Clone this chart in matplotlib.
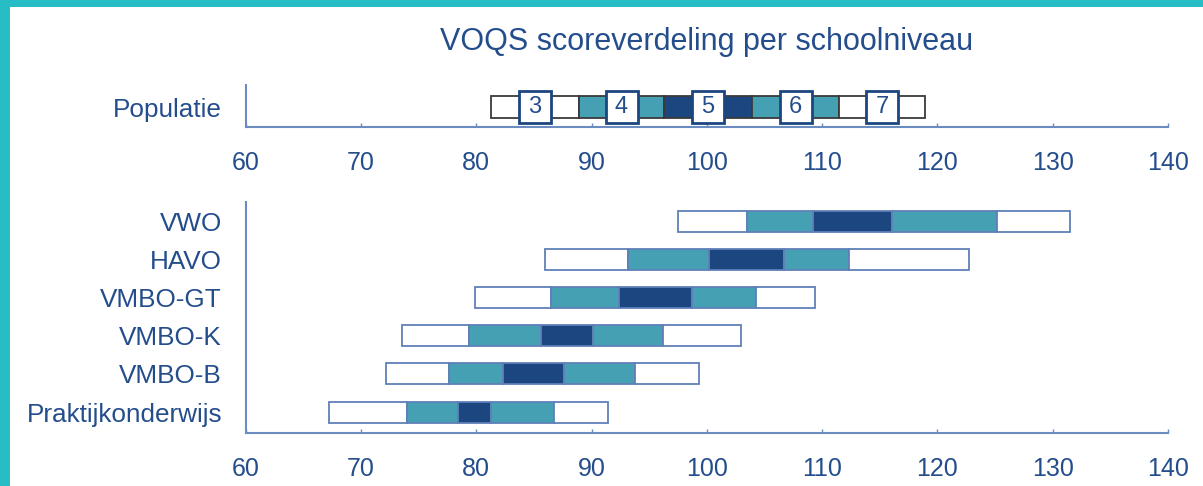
import matplotlib
matplotlib.use("Agg")
import matplotlib.pyplot as plt
from matplotlib.patches import Rectangle

plt.rcParams['font.family'] = ['Liberation Sans', 'DejaVu Sans']

# ---- data ----
categories = ['VWO', 'HAVO', 'VMBO-GT', 'VMBO-K', 'VMBO-B', 'Praktijkonderwijs']
b0 = [97.5, 86.0, 79.9, 73.6, 72.2, 67.2]
b1 = [103.5, 93.2, 86.5, 79.4, 77.6, 74.0]
b2 = [109.2, 100.2, 92.4, 85.6, 82.3, 78.4]
b3 = [116.1, 106.7, 98.7, 90.1, 87.6, 81.3]
b4 = [125.2, 112.3, 104.3, 96.2, 93.8, 86.7]
b5 = [131.5, 122.7, 109.4, 103.0, 99.3, 91.4]

pop_label = 'Populatie'
pop_edges = [81.3, 88.9, 96.3, 103.9, 111.5, 118.9]
pop_scores = ['3', '4', '5', '6', '7']

xticks = [60, 70, 80, 90, 100, 110, 120, 130, 140]
title = 'VOQS scoreverdeling per schoolniveau'

# ---- style ----
TEXT = '#244d8c'
SPINE = '#6a8cc0'
TEAL = '#46a0b3'
DARK = '#1c4680'
WHITE = '#ffffff'
seg_colors = [WHITE, TEAL, DARK, TEAL, WHITE]

W, H = 1203, 486
fig = plt.figure(figsize=(W / 100, H / 100), dpi=100)
fig.patch.set_facecolor('white')

# teal frame (left and top)
fig.patches.append(Rectangle((0, 0), 10 / W, 1, transform=fig.transFigure,
                             facecolor='#26bec4', edgecolor='none', zorder=0))
fig.patches.append(Rectangle((0, 1 - 7 / H), 1, 7 / H, transform=fig.transFigure,
                             facecolor='#26bec4', edgecolor='none', zorder=0))

x0 = 245.7 / W
wdt = (1168 - 245.7) / W
ax_top = fig.add_axes([x0, (H - 127) / H, wdt, 42 / H])
ax_bot = fig.add_axes([x0, (H - 433) / H, wdt, 231 / H])


def style_axis(ax):
    ax.set_xlim(60, 140)
    ax.set_xticks(xticks)
    ax.set_xticklabels([str(t) for t in xticks])
    for s in ['top', 'right']:
        ax.spines[s].set_visible(False)
    for s in ['left', 'bottom']:
        ax.spines[s].set_color(SPINE)
        ax.spines[s].set_linewidth(1.5)
    ax.tick_params(axis='x', direction='in', length=3, width=1, color=SPINE,
                   labelsize=18, labelcolor=TEXT, pad=17)
    ax.tick_params(axis='y', length=0, labelsize=18.8, labelcolor=TEXT, pad=17)
    ax.set_facecolor('none')


# ---- population axis ----
style_axis(ax_top)
ax_top.set_ylim(-0.886, 1.02)
for i in range(len(pop_scores)):
    left = pop_edges[i]
    w = pop_edges[i + 1] - pop_edges[i]
    ax_top.barh(0, w, left=left, height=1.0, color=seg_colors[i],
                edgecolor='#3a3a3a', linewidth=1.3, zorder=2)
box_w = 32 / 11.53
box_h = 1.45
for i, lab in enumerate(pop_scores):
    c = (pop_edges[i] + pop_edges[i + 1]) / 2
    ax_top.add_patch(Rectangle((c - box_w / 2, -box_h / 2 + 0.02), box_w, box_h,
                               facecolor='white', edgecolor=DARK, linewidth=2,
                               zorder=3, clip_on=False))
    ax_top.text(c, 0.02, lab, ha='center', va='center', fontsize=17,
                color=TEXT, zorder=4)
ax_top.set_yticks([0])
ax_top.set_yticklabels([pop_label])

# ---- school level axis ----
style_axis(ax_bot)
n = len(categories)
ypos = [n - 1 - i for i in range(n)]
bounds = [b0, b1, b2, b3, b4, b5]
for k in range(5):
    lefts = bounds[k]
    widths = [bounds[k + 1][j] - bounds[k][j] for j in range(n)]
    ax_bot.barh(ypos, widths, left=lefts, height=0.55, color=seg_colors[k],
                edgecolor='#5f80b8', linewidth=1.3, zorder=2)
ax_bot.set_ylim(-0.55, n - 1 + 0.51)
ax_bot.set_yticks(ypos)
ax_bot.set_yticklabels(categories)

fig.text(707 / W, 1 - 42 / H, title, ha='center', va='center',
         fontsize=22, color=TEXT)

fig.savefig('out.png', dpi=100, facecolor='white')
